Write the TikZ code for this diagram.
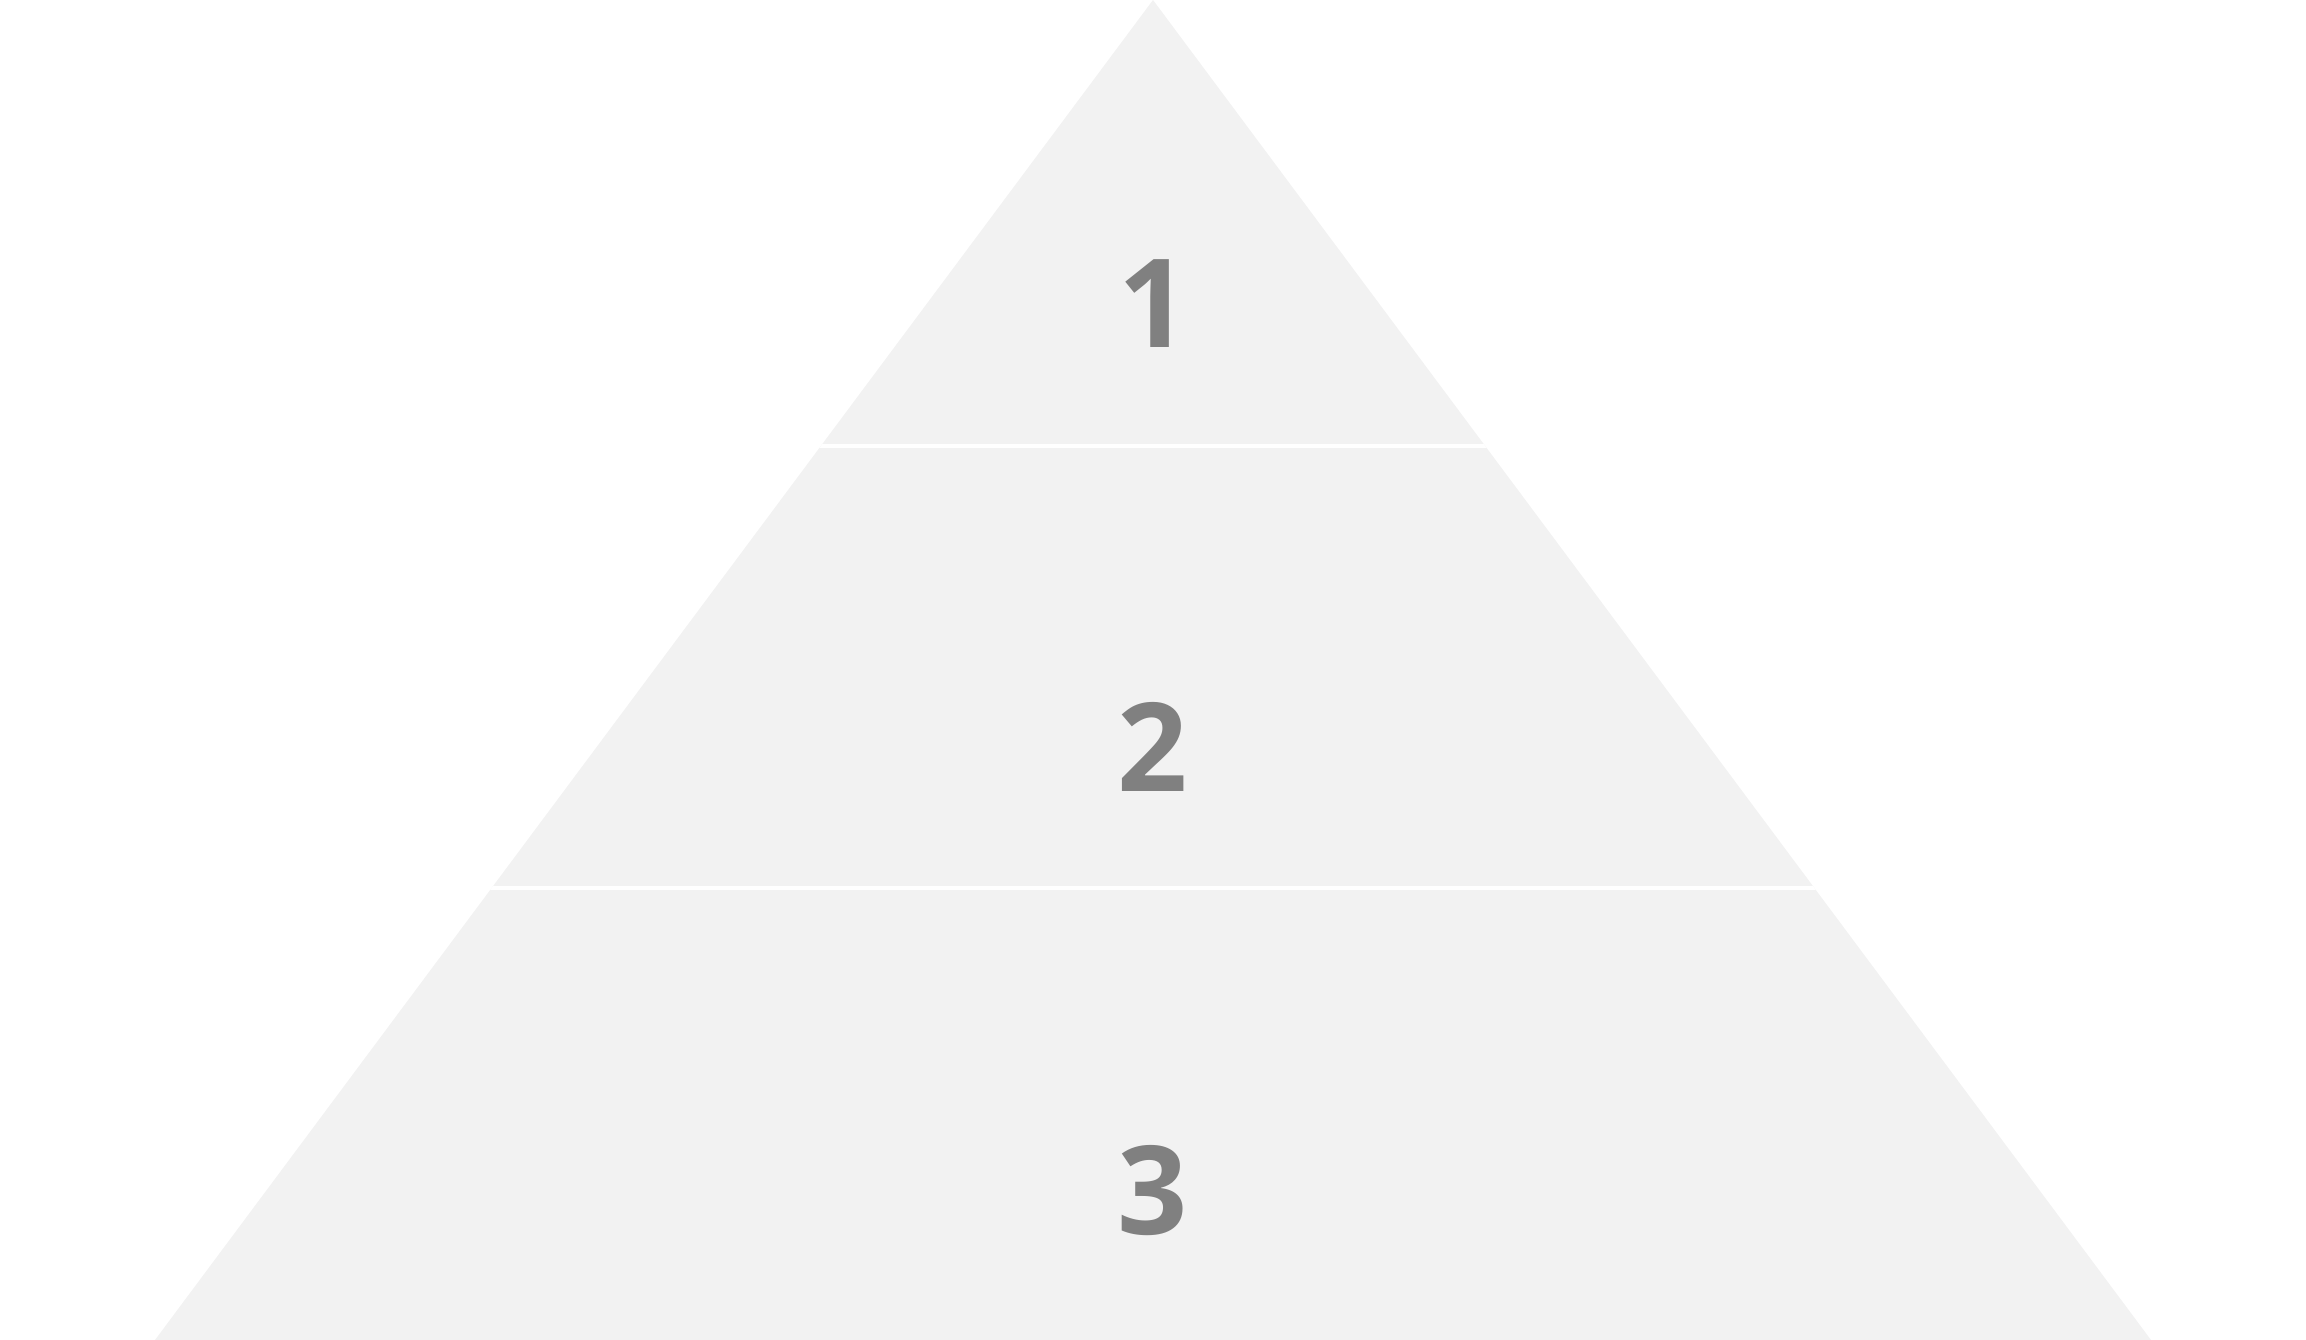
\documentclass[tikz,border=0pt]{standalone}
\usepackage{fontspec}
\setmainfont{Open Sans}
\definecolor{layer}{HTML}{F2F2F2}
\definecolor{num}{HTML}{808080}
\tikzset{
  numlabel/.style={text=num, font=\fontsize{35}{40}\selectfont\bfseries, inner sep=0pt, anchor=center},
  gapline/.style={draw=white, line width=0.04cm}
}
\begin{document}
\begin{tikzpicture}[x=0.01cm,y=-0.01cm]
\useasboundingbox (0,0) rectangle (2306,1340);
\coordinate (apex) at (1153,0);
\coordinate (bl) at (155,1340);
\coordinate (br) at (2151,1340);
\fill[layer] (apex) -- (br) -- (bl) -- cycle;
\begin{scope}
  \clip (apex) -- (br) -- (bl) -- cycle;
  \coordinate (g1l) at (0,445.7);
  \coordinate (g1r) at (2306,445.7);
  \coordinate (g2l) at (0,887.7);
  \coordinate (g2r) at (2306,887.7);
  \draw[gapline] (g1l) -- (g1r);
  \draw[gapline] (g2l) -- (g2r);
\end{scope}
\node[numlabel] (n1) at (1154,304) {1};
\node[numlabel] (n2) at (1153,747) {2};
\node[numlabel] (n3) at (1153,1191) {3};
\end{tikzpicture}
\end{document}
